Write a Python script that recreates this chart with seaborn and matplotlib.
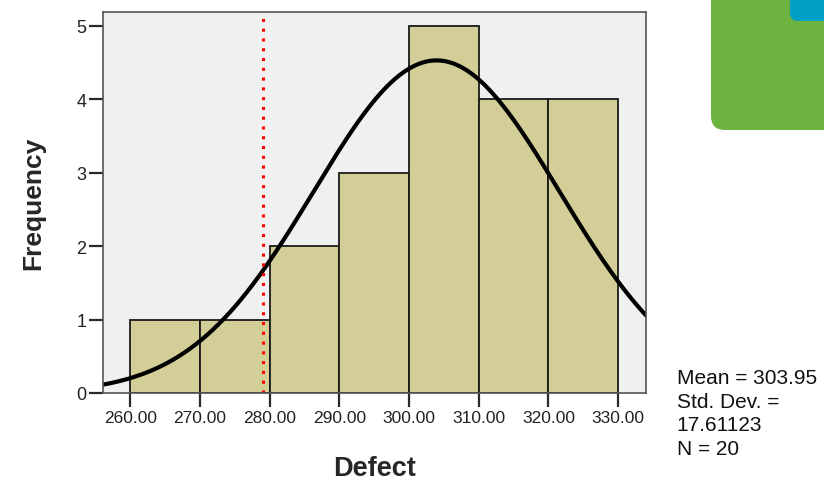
import numpy as np
import pandas as pd
import seaborn as sns
import matplotlib.pyplot as plt
from matplotlib.patches import FancyBboxPatch

# histogram
BIN_EDGES = [260, 270, 280, 290, 300, 310, 320, 330]
COUNTS = [1, 1, 2, 3, 5, 4, 4]
MEAN = 303.95
STD = 17.61123
N = 20
REF_LINE = 279.0
X_TICKS = [260, 270, 280, 290, 300, 310, 320, 330]
Y_TICKS = [0, 1, 2, 3, 4, 5]

sns.set_style("white")
plt.rcParams["font.family"] = ["Liberation Sans", "DejaVu Sans"]

fig = plt.figure(figsize=(8.24, 4.81), dpi=100)
ax = fig.add_axes([0.125, 0.181, 0.659, 0.792])
ax.set_facecolor("#f0f0f0")

mids = [(a + b) / 2 for a, b in zip(BIN_EDGES[:-1], BIN_EDGES[1:])]
bars = pd.DataFrame({"Defect": mids, "count": COUNTS})
sns.histplot(data=bars, x="Defect", weights="count", bins=BIN_EDGES,
             color="#d3ce97", edgecolor="#1a1a1a", linewidth=1.3, alpha=1, ax=ax)

# fitted normal curve scaled to counts
xs = np.linspace(255, 335, 300)
width = BIN_EDGES[1] - BIN_EDGES[0]
ys = N * width / (STD * np.sqrt(2 * np.pi)) * np.exp(-0.5 * ((xs - MEAN) / STD) ** 2)
sns.lineplot(x=xs, y=ys, color="black", linewidth=3, ax=ax)

ax.axvline(REF_LINE, color="red", linestyle=(0, (1, 2.2)), linewidth=2.2, ymax=0.995)

ax.set_xlim(256.1, 334.0)
ax.set_ylim(0, 5.19)
ax.set_xticks(X_TICKS)
ax.set_xticklabels([f"{t:.2f}" for t in X_TICKS], fontsize=12.5, color="#222222")
ax.set_yticks(Y_TICKS)
ax.set_yticklabels([str(t) for t in Y_TICKS], fontsize=13, color="#222222")
ax.tick_params(axis="both", length=10, width=1.6, color="#2a2a2a", direction="out",
               bottom=True, left=True, pad=2)
for s in ax.spines.values():
    s.set_color("#555555")
    s.set_linewidth(1.2)
ax.set_xlabel("Defect", fontsize=19.5, fontweight="bold", labelpad=22)
ax.set_ylabel("Frequency", fontsize=19, fontweight="bold", labelpad=22)

fig.text(0.821, 0.232, f"Mean = {MEAN}\nStd. Dev. =\n{STD}\nN = {N}",
         fontsize=15, va="top", ha="left", linespacing=1.3, color="#111111")

# decoration in the top right corner
green = FancyBboxPatch((711, 350), 200, 200, boxstyle="round,pad=0,rounding_size=14",
                       transform=None, facecolor="#6db33f", edgecolor="none")
blue = FancyBboxPatch((790, 459), 60, 60, boxstyle="round,pad=0,rounding_size=8",
                      transform=None, facecolor="#00a0c6", edgecolor="none")
fig.patches.extend([green, blue])

fig.savefig("out.png", dpi=100)
